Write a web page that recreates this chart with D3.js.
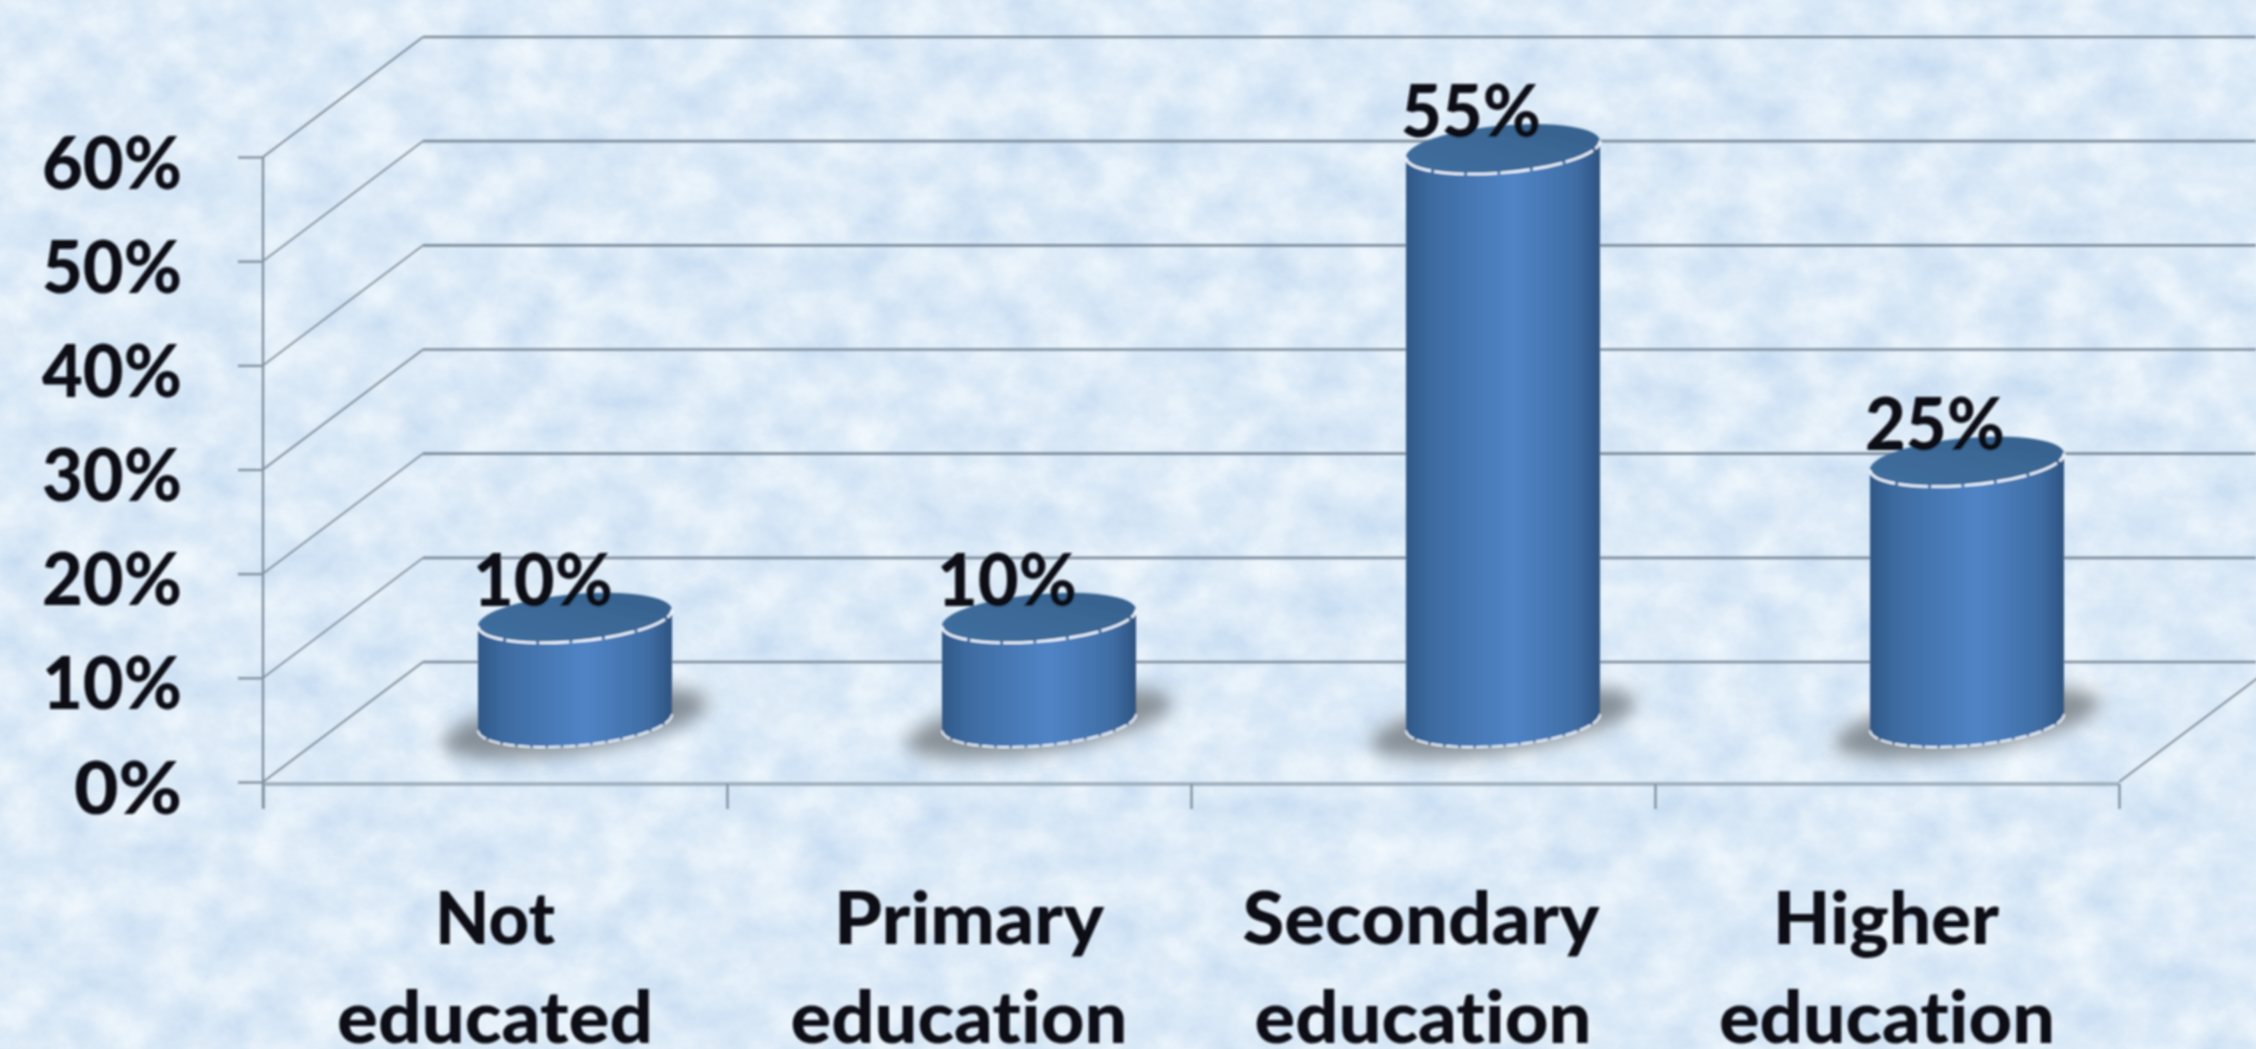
<!DOCTYPE html>
<html><head><meta charset="utf-8">
<script src="https://cdnjs.cloudflare.com/ajax/libs/d3/7.8.5/d3.min.js"></script>
<style>html,body{margin:0;padding:0;background:#dcebf8;overflow:hidden}svg{display:block}
text{font-variant-ligatures:none;font-feature-settings:"liga" 0}</style>
</head><body>
<script>
const categories = ["Not educated","Primary education","Secondary education","Higher education"];
const categoryLines = [["Not","educated"],["Primary","education"],["Secondary","education"],["Higher","education"]];
const values = [10,10,55,25];
const yTicks = [0,10,20,30,40,50,60];

const W=2256,H=1049, depthX=160, depthY=120;
const svg=d3.select("body").append("svg").attr("width",W).attr("height",H);
const defs=svg.append("defs");

const bgF=defs.append("filter").attr("id","paper").attr("x",0).attr("y",0).attr("width","100%").attr("height","100%")
  .attr("color-interpolation-filters","sRGB");
bgF.append("feTurbulence").attr("type","fractalNoise").attr("baseFrequency","0.02 0.024").attr("numOctaves",5).attr("seed",7);
bgF.append("feColorMatrix").attr("type","matrix").attr("values","0.20 0 0 0 0.765  0.13 0 0 0 0.855  0.05 0 0 0 0.945  0 0 0 0 1");
const soft=defs.append("filter").attr("id","soft").attr("x","-5%").attr("y","-5%").attr("width","110%").attr("height","110%");
soft.append("feGaussianBlur").attr("stdDeviation",1.1);
const softer=defs.append("filter").attr("id","shadow").attr("x","-30%").attr("y","-60%").attr("width","160%").attr("height","220%");
softer.append("feGaussianBlur").attr("stdDeviation",9);

const side=defs.append("linearGradient").attr("id","side");
[[0,"#2f5786"],[0.12,"#3d6a9f"],[0.55,"#5084c6"],[0.88,"#3f6da3"],[1,"#2e5380"]]
 .forEach(s=>side.append("stop").attr("offset",s[0]).attr("stop-color",s[1]));
const cap=defs.append("linearGradient").attr("id","cap").attr("x1",0).attr("y1",1).attr("x2",1).attr("y2",0);
[[0,"#406f9f"],[0.5,"#3c6997"],[1,"#35608c"]].forEach(s=>cap.append("stop").attr("offset",s[0]).attr("stop-color",s[1]));

svg.append("rect").attr("width",W).attr("height",H).attr("fill","#dcebf8").attr("filter","url(#paper)");

const y=d3.scaleLinear().domain([0,60]).range([782,157]);
const xEdge=d3.scaleLinear().domain([0,categories.length]).range([263,2119]);
const xBand=d3.scaleBand().domain(categories).range([263,2119]);

const chart=svg.append("g").attr("filter","url(#soft)");
const textStyle=s=>s.attr("font-family","Lato").attr("font-weight",900).attr("fill","#0c1015")
  .attr("lengthAdjust","spacingAndGlyphs");

// back wall gridlines and side-wall diagonals
const grid=chart.append("g");
grid.selectAll("line.back").data(yTicks).join("line").attr("class","back")
  .attr("x1",xEdge(0)+depthX).attr("x2",W).attr("y1",d=>y(d)-depthY).attr("y2",d=>y(d)-depthY)
  .attr("stroke","#7d8d9d").attr("stroke-width",2.6);
grid.selectAll("line.diag").data(yTicks).join("line").attr("class","diag")
  .attr("x1",xEdge(0)).attr("x2",xEdge(0)+depthX).attr("y1",d=>y(d)).attr("y2",d=>y(d)-depthY)
  .attr("stroke","#7b8894").attr("stroke-width",1.6);
// floor, right edge
grid.append("line").attr("x1",xEdge(0)).attr("x2",xEdge(4)).attr("y1",y(0)+2).attr("y2",y(0)+2)
  .attr("stroke","#9babb9").attr("stroke-width",3.6);
grid.append("line").attr("x1",xEdge(4)).attr("x2",xEdge(4)+depthX).attr("y1",y(0)).attr("y2",y(0)-depthY)
  .attr("stroke","#7b8894").attr("stroke-width",1.6);

// axes
const yAxis=chart.append("g").attr("transform",`translate(${xEdge(0)},0)`)
  .call(d3.axisLeft(y).tickValues(yTicks).tickSize(25).tickSizeOuter(0).tickFormat(d=>d+"%"));
yAxis.select(".domain").attr("stroke","#7a8a9c").attr("stroke-width",2.2).attr("d",`M0,${y(60)}V808`);
yAxis.selectAll(".tick line").attr("stroke","#7d8c9a").attr("stroke-width",2.2);
yAxis.selectAll(".tick text").attr("dy",null).attr("y",31).attr("x",-81).attr("font-size",72)
  .attr("text-anchor","end").attr("textLength",d=>d===0?108:140).call(textStyle);

const xAxis=chart.append("g").attr("transform",`translate(0,${y(0)+2})`)
  .call(d3.axisBottom(xEdge).tickValues(d3.range(categories.length+1)).tickSize(25).tickSizeOuter(0).tickFormat(""));
xAxis.select(".domain").remove();
xAxis.selectAll(".tick line").attr("stroke","#7a8a9c").attr("stroke-width",2.2);

// cylinders
const rx=97, ry=23.5, lean=8.5, tilt=-5;
const cx=d=>xBand(d.c)+xBand.bandwidth()/2+depthX/2;
const yTop=d=>y(d.v)-depthY/2;
const yBase=y(0)-depthY/2;
const front=(x,c)=>`M${x-rx},${c+lean}A${rx},${ry} ${tilt} 0 0 ${x+rx},${c-lean}`;
const rows=categories.map((c,i)=>({c,v:values[i]}));
const bars=chart.selectAll("g.bar").data(rows).join("g").attr("class","bar");
bars.append("ellipse").attr("cx",cx).attr("cy",yBase+1).attr("rx",rx+37).attr("ry",29)
  .attr("transform",d=>`rotate(-9 ${cx(d)} ${yBase})`)
  .attr("fill","#6a7176").attr("opacity",0.75).attr("filter","url(#shadow)");
bars.append("path").attr("fill","url(#side)")
  .attr("d",d=>`M${cx(d)-rx},${yTop(d)+lean}L${cx(d)-rx},${yBase+lean}A${rx},${ry} ${tilt} 0 0 ${cx(d)+rx},${yBase-lean}L${cx(d)+rx},${yTop(d)-lean}Z`);
bars.append("path").attr("fill","none").attr("stroke","#e6f0fb").attr("stroke-width",2).attr("stroke-dasharray","12 3")
  .attr("d",d=>front(cx(d),yBase));
bars.append("path").attr("fill","url(#cap)")
  .attr("d",d=>`M${cx(d)-rx},${yTop(d)+lean}A${rx},${ry} ${tilt} 1 1 ${cx(d)+rx},${yTop(d)-lean}A${rx},${ry} ${tilt} 1 1 ${cx(d)-rx},${yTop(d)+lean}Z`);
bars.append("path").attr("fill","none").attr("stroke","#f2f7ff").attr("stroke-width",2.6).attr("stroke-dasharray","30 3")
  .attr("d",d=>front(cx(d),yTop(d)));
bars.append("text").attr("x",d=>cx(d)-32).attr("y",d=>yTop(d)-12).attr("text-anchor","middle")
  .attr("font-size",72).attr("textLength",140).call(textStyle).text(d=>d.v+"%");

// category labels
const firstLineShift=[0,10,-2,-1];
const firstWidths=[120,270,357,226], secondWidths=[316,337,337,336];
const labels=chart.selectAll("g.cat").data(categoryLines).join("g").attr("class","cat");
labels.each(function(lines,i){
  const mid=xBand(categories[i])+xBand.bandwidth()/2;
  const g=d3.select(this);
  lines.forEach((t,k)=>g.append("text")
    .attr("x",mid+(k===0?firstLineShift[i]:0)).attr("y",k===0?944:1043).attr("text-anchor","middle")
    .attr("font-size",72).attr("textLength",k===0?firstWidths[i]:secondWidths[i]).call(textStyle).text(t));
});
</script>
</body></html>
